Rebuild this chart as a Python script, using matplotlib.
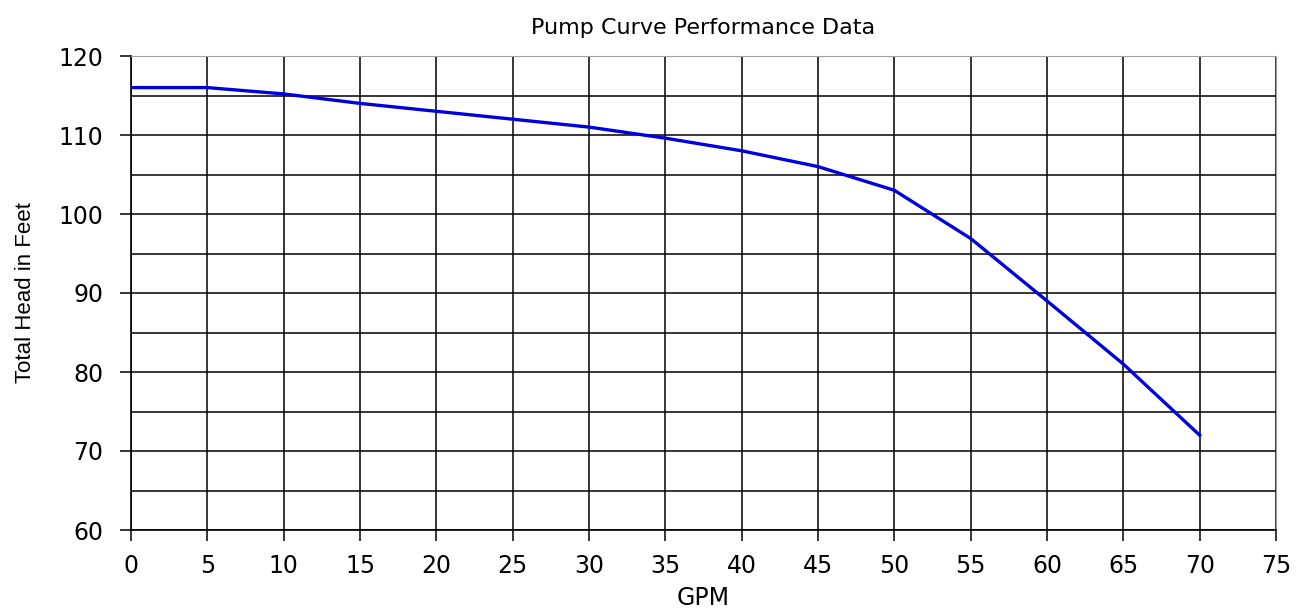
import matplotlib
matplotlib.use("Agg")
import matplotlib.pyplot as plt
from matplotlib.ticker import MultipleLocator

gpm = [0, 5, 10, 15, 20, 25, 30, 35, 40, 45, 50, 55, 60, 65, 70]
head = [116, 116, 115.2, 114, 113, 112, 111, 109.6, 108, 106, 103, 96.9, 89, 81, 72]

plt.rcParams['font.family'] = ['DejaVu Sans']

fig = plt.figure(figsize=(13.04, 6.08), dpi=100)
ax = fig.add_axes([131/1304, 78/608, (1276-131)/1304, (530-56)/608])

ax.plot(gpm, head, color='#0000dd', lw=2.4, zorder=3)

ax.set_xlim(0, 75)
ax.set_ylim(60, 120)
ax.xaxis.set_major_locator(MultipleLocator(5))
ax.yaxis.set_major_locator(MultipleLocator(10))
ax.yaxis.set_minor_locator(MultipleLocator(5))
ax.grid(True, which='major', color='black', lw=1.1)
ax.grid(True, which='minor', axis='y', color='black', lw=1.1)
ax.tick_params(axis='both', which='major', labelsize=17, length=8, width=1.1, color='black')
ax.tick_params(axis='x', which='major', pad=9)
ax.tick_params(axis='y', which='major', pad=12)
ax.tick_params(axis='y', which='minor', length=0)
for s in ['top', 'right']:
    ax.spines[s].set_color('#a0a0a0')
for s in ['left', 'bottom']:
    ax.spines[s].set_color('black')
    ax.spines[s].set_linewidth(1.2)

ax.set_xlabel('GPM', fontsize=17, labelpad=6)
ax.set_ylabel('Total Head in Feet', fontsize=16, labelpad=16,
              family=['Liberation Sans', 'DejaVu Sans'])
ax.set_title('Pump Curve Performance Data', fontsize=16, pad=16)

fig.savefig('out.png', dpi=100)
